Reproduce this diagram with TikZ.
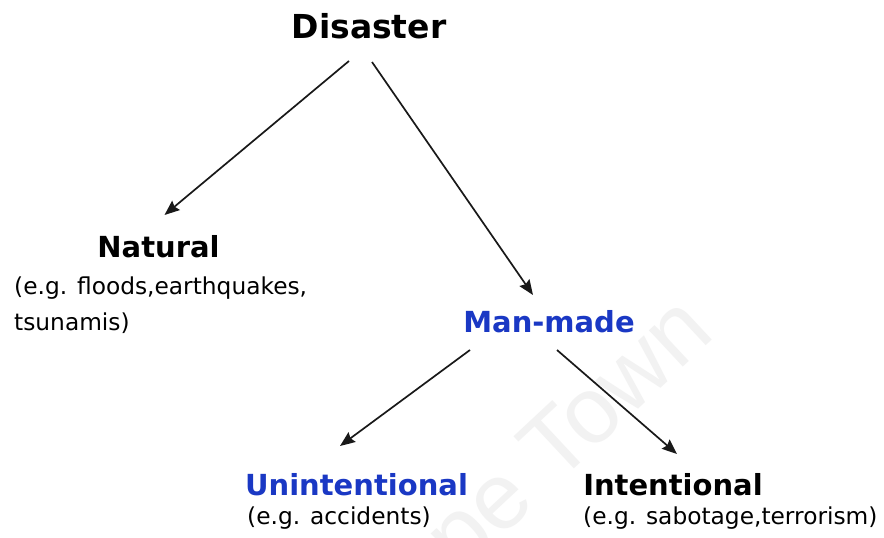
\documentclass[tikz,border=0pt]{standalone}
\usepackage{fontspec}
\setmainfont{DejaVu Sans}
\newfontfamily\markfont{Liberation Sans}
\usetikzlibrary{arrows.meta}
\definecolor{headblue}{RGB}{26,56,196}
\tikzset{
  head/.style={inner sep=0pt, anchor=base, font=\bfseries\fontsize{29}{35}\selectfont},
  example/.style={inner sep=0pt, anchor=base west, font=\fontsize{23.3}{36}\selectfont},
  link/.style={line width=1.7pt, draw=black!90, -{Stealth[length=15pt,width=12pt,inset=2pt]}},
  stamp/.style={inner sep=0pt, anchor=base east, rotate=43, text=black!5, font=\markfont\fontsize{94}{94}\selectfont}
}
\begin{document}
\begin{tikzpicture}[x=1pt,y=-1pt]
  \fill[white] (0,0) rectangle (884,538);
  \useasboundingbox (0,0) rectangle (884,538);

  % faint stamp behind the tree
  \node[stamp] (stamp) at (717,336) {pe Town};

  % root and branches
  \node[head, font=\bfseries\fontsize{33}{40}\selectfont] (disaster) at (369,38) {Disaster};
  \node[head] (natural) at (158.5,257) {Natural};
  \node[example] (naturalex) at (14,294) {(e.g. floods,earthquakes,};
  \node[example] (naturalex2) at (14,330) {tsunamis)};
  \node[head, text=headblue] (manmade) at (549,332) {Man-made};
  \node[head, text=headblue] (unint) at (356.5,495) {Unintentional};
  \node[example] (unintex) at (247,524) {(e.g. accidents)};
  \node[head] (intent) at (673,495) {Intentional};
  \node[example] (intentex) at (583,524) {(e.g. sabotage,terrorism)};

  % connectors
  \draw[link] ([shift={(-20,23)}]disaster.base) -- ([shift={(6,-42)}]natural.base);
  \draw[link] ([shift={(3,24)}]disaster.base) -- ([shift={(-16,-37)}]manmade.base);
  \draw[link] ([shift={(-79,18)}]manmade.base) -- ([shift={(-16.5,-49)}]unint.base);
  \draw[link] ([shift={(8,18)}]manmade.base) -- ([shift={(4,-41)}]intent.base);
\end{tikzpicture}
\end{document}
